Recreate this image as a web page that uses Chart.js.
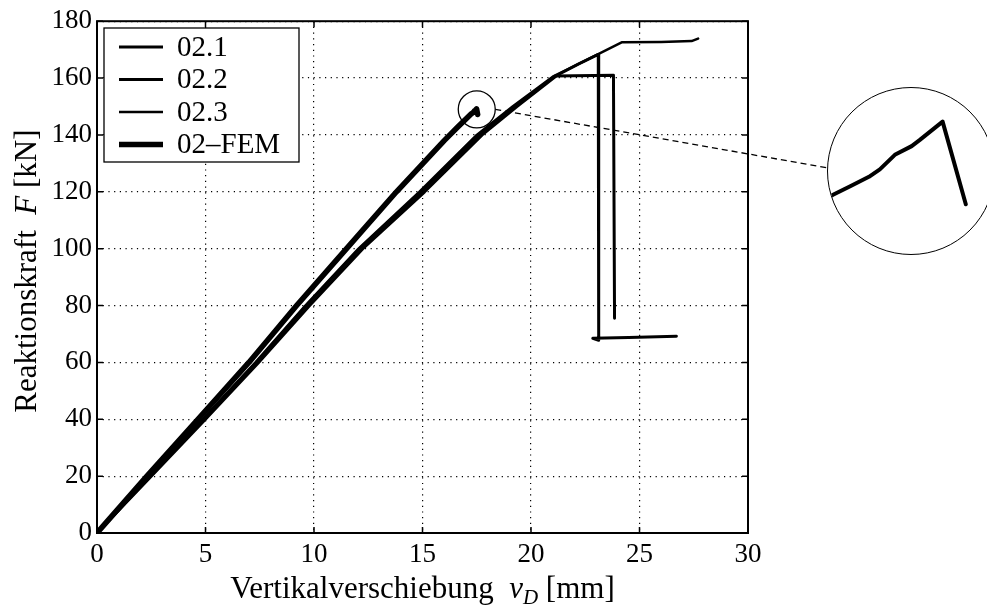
<!DOCTYPE html>
<html>
<head>
<meta charset="utf-8">
<script src="https://cdn.jsdelivr.net/npm/chart.js@4.4.0/dist/chart.umd.min.js"></script>
<style>
  html, body { margin: 0; padding: 0; background: #fff; overflow: hidden; }
  .graphic-container { position: relative; width: 987px; height: 609px; }
  .lupe { position: absolute; border: 1.4px solid #000; border-radius: 50%; overflow: hidden; background: #fff; }
</style>
</head>
<body>
<div class="graphic-container">
  <canvas id="graphic" width="987" height="609"></canvas>
  <div class="lupe"><canvas id="lupe-graphic" width="166" height="166"></canvas></div>
</div>
<script>
// axis ticks
const xTicks = [0, 5, 10, 15, 20, 25, 30];
const yTicks = [0, 20, 40, 60, 80, 100, 120, 140, 160, 180];

// Versuch 02.1
const v021 = [0, 2.45, 4.9, 7.35, 9.65, 12.1, 14.95, 17.6, 19.25, 21.1, 23.8, 23.85];
const f021 = [0, 20, 40, 60, 80, 100, 120, 140, 150, 160.7, 161, 75.5];
// Versuch 02.2
const v022 = [0, 2.5, 5.0, 7.45, 9.8, 12.25, 15.1, 17.75, 19.35, 21.2, 22.2, 23.1, 23.12, 22.85, 24.5, 26.7];
const f022 = [0, 20, 40, 60, 80, 100, 120, 140, 150, 161, 165, 168.3, 67.8, 68.5, 68.8, 69.2];
// Versuch 02.3
const v023 = [0, 2.4, 4.85, 7.3, 9.6, 12.05, 14.85, 17.5, 19.15, 21.0, 22.2, 24.2, 26.0, 27.4, 27.7];
const f023 = [0, 20, 40, 60, 80, 100, 120, 140, 150, 160.5, 165, 172.6, 172.7, 173, 173.9];
// FEM, fein aufgeloest am Lastmaximum
const vFem = [0, 2.3, 4.65, 7.0, 9.2, 11.5, 13.8, 16.0, 16.6, 17.25, 17.29, 17.33, 17.354, 17.387, 17.424, 17.442, 17.492, 17.543];
const fFem = [0, 20, 40, 60, 80, 100, 120, 138, 142.6, 147.42, 147.64, 147.86, 148.04, 148.39, 148.6, 148.75, 149.19, 147.2];

// Ausschnitt fuer die Lupe
const lupeV = [17.24, 17.605];
const lupeF = [146, 150];
const lupeCenter = { v: 17.5, f: 149 };

const LUPE = { x: 911, y: 171, r: 83 };
const SERIF = "'Liberation Serif', 'Times New Roman', serif";

const toPoints = (vs, fs) => vs.map((v, i) => ({ x: v, y: fs[i] }));

const lineStyle = (label, v, f, width) => ({
  label,
  data: toPoints(v, f),
  showLine: true,
  borderColor: "#000",
  backgroundColor: "#000",
  borderWidth: width,
  pointRadius: 0,
  tension: 0,
  borderJoinStyle: "round",
  borderCapStyle: "round",
});

function drawRuns(ctx, runs, x, y) {
  runs.forEach((r) => {
    ctx.font = r.font;
    ctx.fillText(r.text, x, y + (r.dy || 0));
    x += ctx.measureText(r.text).width;
  });
}

function runsWidth(ctx, runs) {
  return runs.reduce((w, r) => {
    ctx.font = r.font;
    return w + ctx.measureText(r.text).width;
  }, 0);
}

const framePlugin = {
  id: "frame",
  afterDraw(chart) {
    const { ctx, chartArea: a, scales } = chart;
    const x = scales.x;
    const y = scales.y;
    const tickLen = 6;
    ctx.save();
    ctx.strokeStyle = "#000";
    ctx.fillStyle = "#000";

    // Achsenrahmen
    ctx.lineWidth = 2;
    ctx.strokeRect(a.left, a.top, a.right - a.left, a.bottom - a.top);

    // Ticks nach innen
    ctx.lineWidth = 1.5;
    ctx.beginPath();
    xTicks.forEach((v) => {
      const px = x.getPixelForValue(v);
      ctx.moveTo(px, a.bottom);
      ctx.lineTo(px, a.bottom - tickLen);
      ctx.moveTo(px, a.top);
      ctx.lineTo(px, a.top + tickLen);
    });
    yTicks.forEach((v) => {
      const py = y.getPixelForValue(v);
      ctx.moveTo(a.left, py);
      ctx.lineTo(a.left + tickLen, py);
      ctx.moveTo(a.right, py);
      ctx.lineTo(a.right - tickLen, py);
    });
    ctx.stroke();

    // Achsentitel
    const roman = `31px ${SERIF}`;
    const italic = `italic 31px ${SERIF}`;
    ctx.textBaseline = "alphabetic";
    ctx.textAlign = "left";
    const xRuns = [
      { text: "Vertikalverschiebung  ", font: roman },
      { text: "v", font: italic },
      { text: "D", font: `italic 21px ${SERIF}`, dy: 6 },
      { text: " [mm]", font: roman },
    ];
    const xMid = (a.left + a.right) / 2;
    drawRuns(ctx, xRuns, xMid - runsWidth(ctx, xRuns) / 2, 598);

    const yRuns = [
      { text: "Reaktionskraft  ", font: roman },
      { text: "F", font: italic },
      { text: " [kN]", font: roman },
    ];
    ctx.save();
    ctx.translate(36, (a.top + a.bottom) / 2 - 6);
    ctx.rotate(-Math.PI / 2);
    drawRuns(ctx, yRuns, -runsWidth(ctx, yRuns) / 2, 0);
    ctx.restore();

    // Legende
    const box = { left: 104, top: 28, width: 195, height: 134 };
    ctx.fillStyle = "#fff";
    ctx.fillRect(box.left, box.top, box.width, box.height);
    ctx.lineWidth = 1.3;
    ctx.strokeRect(box.left, box.top, box.width, box.height);
    ctx.fillStyle = "#000";
    ctx.font = `29px ${SERIF}`;
    ctx.textBaseline = "middle";
    chart.data.datasets.forEach((ds, i) => {
      const cy = box.top + 19 + i * 32.5;
      ctx.lineWidth = ds.borderWidth;
      ctx.lineCap = "butt";
      ctx.beginPath();
      ctx.moveTo(box.left + 15, cy);
      ctx.lineTo(box.left + 59, cy);
      ctx.stroke();
      ctx.fillText(ds.label, box.left + 73, cy + 1);
    });

    // Lupe: Kreis am Lastmaximum und Verbindungslinie
    const cx = x.getPixelForValue(lupeCenter.v);
    const cy = y.getPixelForValue(lupeCenter.f);
    const r = 18.5;
    ctx.lineWidth = 1.3;
    ctx.beginPath();
    ctx.arc(cx, cy, r, 0, Math.PI * 2);
    ctx.stroke();
    ctx.setLineDash([6, 4]);
    ctx.beginPath();
    ctx.moveTo(cx + r, cy);
    ctx.lineTo(LUPE.x - LUPE.r, LUPE.y - 3);
    ctx.stroke();
    ctx.restore();
  },
};

const axisBase = (min, max, step) => ({
  type: "linear",
  min,
  max,
  ticks: {
    stepSize: step,
    color: "#000",
    font: { family: SERIF, size: 27 },
  },
  grid: {
    color: "#000",
    lineWidth: 1.2,
    drawTicks: false,
  },
  border: { display: false, dash: [1.2, 4.5] },
});

const xAxis = axisBase(0, 30, 5);
xAxis.ticks.padding = 6;
xAxis.afterFit = (scale) => {
  scale.height = 40;
};

const yAxis = axisBase(0, 180, 20);
yAxis.ticks.padding = 5;
yAxis.afterFit = (scale) => {
  scale.width = 97;
};

const graphicElement = document.getElementById("graphic");
const graphicChart = new Chart(graphicElement, {
  type: "scatter",
  data: {
    datasets: [
      lineStyle("02.1", v021, f021, 3),
      lineStyle("02.2", v022, f022, 3),
      lineStyle("02.3", v023, f023, 2.5),
      lineStyle("02\u2013FEM", vFem, fFem, 5.5),
    ],
  },
  options: {
    responsive: false,
    animation: false,
    layout: { padding: { left: 0, right: 239, top: 20, bottom: 36 } },
    plugins: { legend: { display: false }, tooltip: { enabled: false } },
    scales: { x: xAxis, y: yAxis },
  },
  plugins: [framePlugin],
});

// Lupe als eigener Plot mit engem Achsenausschnitt
const lupeElement = document.querySelector(".lupe");
lupeElement.style.left = `${LUPE.x - LUPE.r - 1}px`;
lupeElement.style.top = `${LUPE.y - LUPE.r - 1}px`;
lupeElement.style.width = `${LUPE.r * 2}px`;
lupeElement.style.height = `${LUPE.r * 2}px`;

const lupeChart = new Chart(document.getElementById("lupe-graphic"), {
  type: "scatter",
  data: {
    datasets: [lineStyle("02\u2013FEM", vFem, fFem, 4)],
  },
  options: {
    responsive: false,
    animation: false,
    layout: { padding: 0 },
    plugins: { legend: { display: false }, tooltip: { enabled: false } },
    scales: {
      x: { type: "linear", min: lupeV[0], max: lupeV[1], display: false },
      y: { type: "linear", min: lupeF[0], max: lupeF[1], display: false },
    },
  },
});
</script>
</body>
</html>
